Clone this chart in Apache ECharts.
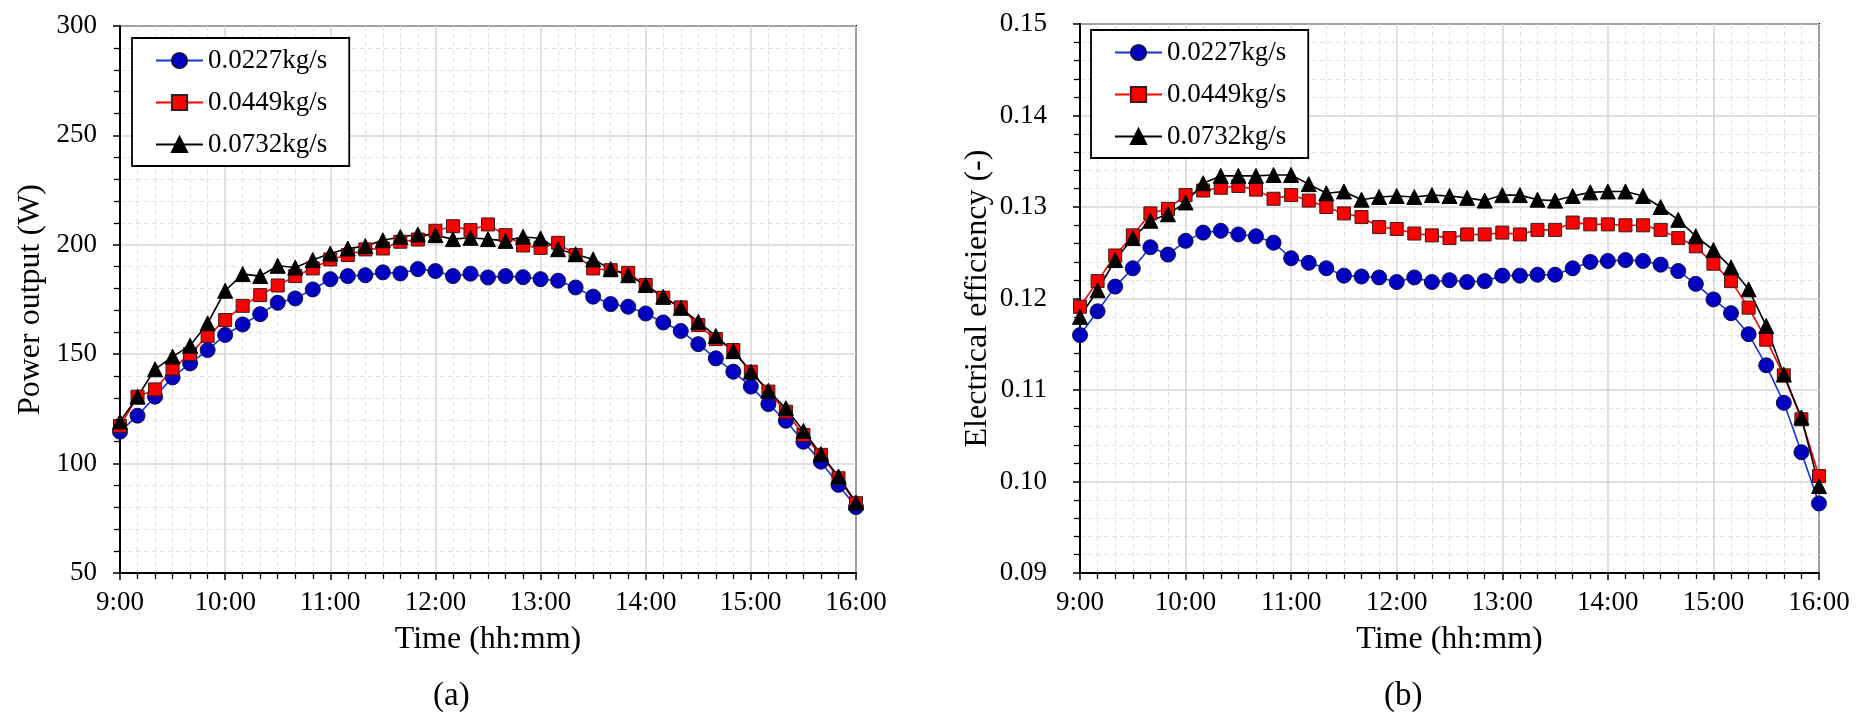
<!DOCTYPE html>
<html>
<head>
<meta charset="utf-8">
<script src="https://cdn.jsdelivr.net/npm/echarts@6/dist/echarts.min.js"></script>
<style>
  html, body { margin: 0; padding: 0; background: #fff; }
  #main { width: 1859px; height: 728px; }
</style>
</head>
<body>
<div id="main"></div>
<script>
// time stamps, every 10 min
var times = ['9:00','9:10','9:20','9:30','9:40','9:50','10:00','10:10','10:20','10:30','10:40','10:50',
  '11:00','11:10','11:20','11:30','11:40','11:50','12:00','12:10','12:20','12:30','12:40','12:50',
  '13:00','13:10','13:20','13:30','13:40','13:50','14:00','14:10','14:20','14:30','14:40','14:50',
  '15:00','15:10','15:20','15:30','15:40','15:50','16:00'];

var seriesNames = ['0.0227kg/s', '0.0449kg/s', '0.0732kg/s'];

// (a) power output, W
var power0227 = [114.6,121.9,130.6,139.4,145.8,151.9,158.8,163.6,168.3,173.5,175.5,179.6,184.3,185.7,186.1,187.4,186.9,188.9,188.0,185.7,186.8,185.1,
  185.7,185.2,184.3,183.6,180.5,176.3,172.9,171.7,168.6,164.5,160.6,154.6,148.1,142.0,135.2,127.2,119.6,110.0,100.9,90.3,80.1];
var power0449 = [117.2,130.6,133.9,143.4,150.1,158.4,165.6,172.1,177.0,181.4,185.7,189.2,193.3,195.3,197.9,198.3,201.4,202.4,206.4,208.5,206.7,209.3,
  204.4,199.7,198.6,200.9,195.3,189.2,188.4,187.2,181.6,175.8,171.4,163.3,156.9,151.9,142.0,132.9,123.7,113.1,104.0,93.3,81.9];
var power0732 = [119.2,130.6,143.1,148.9,153.9,164.1,179.0,186.6,185.7,190.4,189.6,193.0,196.0,198.3,199.4,202.1,203.6,204.7,204.4,202.6,203.2,202.6,
  201.8,203.7,202.9,198.0,195.7,193.3,188.9,186.1,181.6,176.3,171.2,164.8,158.3,151.4,142.0,133.3,125.3,114.9,104.3,94.1,82.2];

// (b) electrical efficiency, -
var eff0227 = [0.1160,0.1186,0.1213,0.1233,0.1256,0.1248,0.1263,0.1272,0.1274,0.1270,0.1268,0.1261,0.1244,0.1239,0.1233,0.1225,0.1224,0.1223,0.1218,0.1223,0.1218,0.1220,
  0.1218,0.1219,0.1225,0.1225,0.1226,0.1226,0.1233,0.1240,0.1241,0.1242,0.1241,0.1237,0.1230,0.1216,0.1199,0.1184,0.1161,0.1127,0.1086,0.1032,0.0976];
var eff0449 = [0.1191,0.1219,0.1247,0.1269,0.1293,0.1298,0.1313,0.1318,0.1321,0.1323,0.1319,0.1309,0.1313,0.1307,0.1300,0.1293,0.1289,0.1278,0.1276,0.1271,0.1269,0.1266,
  0.1270,0.1270,0.1272,0.1270,0.1275,0.1275,0.1283,0.1281,0.1281,0.1280,0.1280,0.1275,0.1266,0.1257,0.1238,0.1219,0.1190,0.1155,0.1116,0.1068,0.1006];
var eff0732 = [0.1180,0.1209,0.1242,0.1266,0.1285,0.1292,0.1305,0.1326,0.1334,0.1334,0.1334,0.1335,0.1335,0.1325,0.1315,0.1317,0.1308,0.1311,0.1312,0.1311,0.1313,0.1312,
  0.1310,0.1307,0.1313,0.1313,0.1308,0.1307,0.1312,0.1316,0.1317,0.1317,0.1312,0.1300,0.1286,0.1268,0.1253,0.1234,0.1210,0.1170,0.1117,0.1070,0.0995];

var FONT = "'Liberation Serif', 'Times New Roman', serif";

function toMin(t){
    var p = t.split(':');
    return (parseInt(p[0]) - 9) * 60 + parseInt(p[1]);
}
function pairs(vals){
    var out = [];
    for (var i = 0; i < times.length; i++) out.push([toMin(times[i]), vals[i]]);
    return out;
}

// marker styles for the three flow rates
var styles = [
    {symbol: 'circle', size: 15, fill: '#0000c0', line: '#1533d6', border: '#10104a'},
    {symbol: 'rect', size: 13, fill: '#ff0000', line: '#ff0000', border: '#3a1a1a'},
    {symbol: 'triangle', size: 15, fill: '#000000', line: '#000000', border: '#000000'}
];

function mkSeries(name, vals, k, gi){
    var s = styles[k];
    return {
        name: name,
        type: 'line',
        xAxisIndex: gi,
        yAxisIndex: gi,
        data: pairs(vals),
        symbol: s.symbol,
        symbolSize: s.size,
        showAllSymbol: true,
        lineStyle: {color: s.line, width: 1.6},
        itemStyle: {color: s.fill, borderColor: s.border, borderWidth: 1},
        emphasis: {disabled: true},
        animation: false
    };
}

function xAxis(gi){
    return {
        type: 'value', gridIndex: gi, min: 0, max: 420, interval: 60,
        name: 'Time (hh:mm)', nameLocation: 'middle', nameGap: 51,
        nameTextStyle: {fontFamily: FONT, fontSize: 32, color: '#000'},
        axisLine: {show: true, lineStyle: {color: '#000', width: 2}},
        axisTick: {show: true, inside: false, length: 7, lineStyle: {color: '#000', width: 1.5}},
        minorTick: {show: true, splitNumber: 6, length: 6, lineStyle: {color: '#000', width: 1.3}},
        splitLine: {show: true, lineStyle: {color: '#d6d6d6', width: 1.5}},
        minorSplitLine: {show: true, lineStyle: {color: '#e2e2e2', width: 1.2, type: [5, 3]}},
        axisLabel: {
            fontFamily: FONT, fontSize: 27, color: '#000', margin: 16,
            formatter: function(v){ return (9 + v / 60) + ':00'; }
        }
    };
}

function yAxis(gi, min, max, step, name, gap, labGap, dec){
    return {
        type: 'value', gridIndex: gi, min: min, max: max, interval: step,
        name: name, nameLocation: 'middle', nameGap: gap,
        nameTextStyle: {fontFamily: FONT, fontSize: 32, color: '#000'},
        axisLine: {show: true, lineStyle: {color: '#000', width: 2}},
        axisTick: {show: true, inside: false, length: 7, lineStyle: {color: '#000', width: 1.5}},
        minorTick: {show: true, splitNumber: 5, length: 6, lineStyle: {color: '#000', width: 1.3}},
        splitLine: {show: true, lineStyle: {color: '#d6d6d6', width: 1.5}},
        minorSplitLine: {show: true, lineStyle: {color: '#e2e2e2', width: 1.2, type: [5, 3]}},
        axisLabel: {
            fontFamily: FONT, fontSize: 27, color: '#000', margin: labGap,
            formatter: function(v){ return v.toFixed(dec); }
        }
    };
}

function legend(gi, left, top){
    return {
        seriesIndex: gi,
        data: seriesNames,
        orient: 'vertical',
        left: left, top: top,
        backgroundColor: '#fff',
        borderColor: '#000', borderWidth: 1.8,
        padding: [9, 22, 8, 23],
        itemWidth: 47, itemHeight: 19, itemGap: 15,
        selectedMode: false,
        textStyle: {fontFamily: FONT, fontSize: 27, color: '#000'}
    };
}

var myChart = echarts.init(document.getElementById('main'), null, {renderer: 'canvas'});
var option = {
    backgroundColor: '#fff',
    animation: false,
    grid: [
        {left: 120, top: 26, width: 736, height: 547, show: true, borderColor: '#000', borderWidth: 2, backgroundColor: 'transparent'},
        {left: 1080, top: 24, width: 739, height: 549, show: true, borderColor: '#000', borderWidth: 2, backgroundColor: 'transparent'}
    ],
    xAxis: [xAxis(0), xAxis(1)],
    yAxis: [
        yAxis(0, 50, 300, 50, 'Power output (W)', 73, 23, 0),
        yAxis(1, 0.09, 0.15, 0.01, 'Electrical efficiency (-)', 86, 33, 2)
    ],
    legend: [legend(0, 132, 38), legend(1, 1091, 30)],
    graphic: [
        {type: 'text', left: 433, top: 680, style: {text: '(a)', font: '33px ' + FONT, fill: '#000'}},
        {type: 'text', left: 1384, top: 680, style: {text: '(b)', font: '33px ' + FONT, fill: '#000'}}
    ],
    series: [
        mkSeries(seriesNames[0], power0227, 0, 0),
        mkSeries(seriesNames[1], power0449, 1, 0),
        mkSeries(seriesNames[2], power0732, 2, 0),
        mkSeries(seriesNames[0], eff0227, 0, 1),
        mkSeries(seriesNames[1], eff0449, 1, 1),
        mkSeries(seriesNames[2], eff0732, 2, 1)
    ]
};
myChart.setOption(option);
</script>
</body>
</html>
